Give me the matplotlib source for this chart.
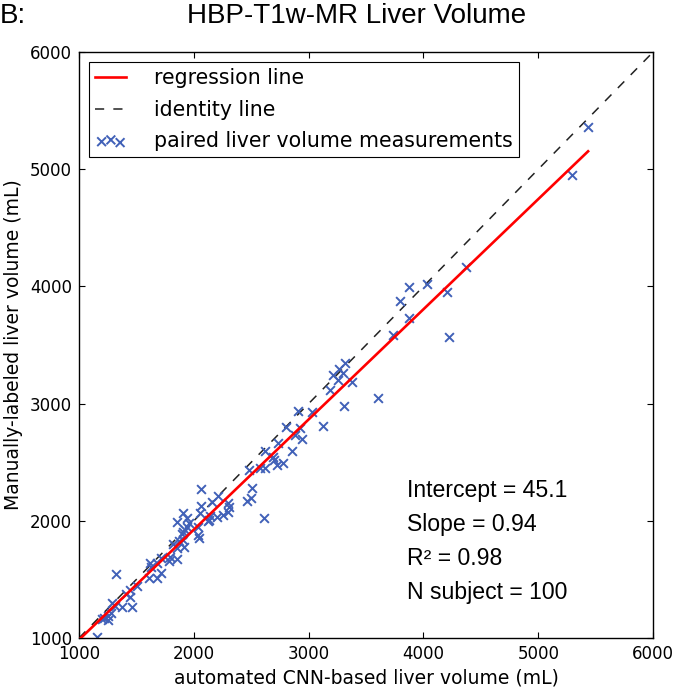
import matplotlib
matplotlib.use("Agg")
import matplotlib.pyplot as plt
import numpy as np

# ---- data ----
auto_vol = [5434, 5295, 4371, 4206, 4223, 4031, 3875, 3796, 3875, 3735,
            3605, 3317, 3265, 3213, 3300, 3256, 3378, 3186, 3308, 2908,
            3030, 3125, 2803, 2925, 2882, 2943, 2733, 2855, 2620, 2690,
            2699, 2777, 2725, 2620, 2577, 2481, 2507, 2498, 2463, 2612,
            2063, 2159, 2211, 2298, 2307, 2298, 2254, 2202, 2132, 2063,
            2054, 1906, 1941, 1854, 1958, 1941, 1923, 1906, 1897, 2037,
            2045, 1906, 1819, 1854, 1915, 2141, 2124, 1871, 1793, 1854,
            1784, 1714, 1679, 1618, 1627, 1714, 1610, 1679, 1322, 1505,
            1444, 1409, 1444, 1462, 1375, 1287, 1314, 1279, 1253, 1218,
            1200, 1253, 1157, 2037]
manual_vol = [5360, 4950, 4165, 3952, 3568, 4020, 3995, 3875, 3730, 3585,
              3048, 3346, 3295, 3244, 3261, 3201, 3184, 3116, 2979, 2937,
              2928, 2809, 2800, 2792, 2732, 2698, 2664, 2595, 2595, 2544,
              2519, 2493, 2476, 2450, 2450, 2433, 2280, 2194, 2169, 2024,
              2271, 2160, 2212, 2152, 2118, 2075, 2049, 2032, 2007, 2126,
              2067, 2067, 2024, 1990, 1981, 1947, 1921, 1904, 1887, 1879,
              1853, 1836, 1802, 1768, 1776, 2041, 1998, 1828, 1691, 1674,
              1657, 1683, 1640, 1640, 1606, 1555, 1512, 1512, 1546, 1444,
              1410, 1375, 1350, 1264, 1264, 1299, 1273, 1213, 1188, 1171,
              1162, 1154, 1009, 1947]
intercept = 45.1
slope = 0.94
r_squared = 0.98
n_subject = 100
fit_x_min = 950          # lower end of fitted range (below visible axis)
axis_range = [1000, 6000]
tick_values = [1000, 2000, 3000, 4000, 5000, 6000]

title = "HBP-T1w-MR Liver Volume"
panel_label = "B:"
xlabel = "automated CNN-based liver volume (mL)"
ylabel = "Manually-labeled liver volume (mL)"

# ---- figure ----
fig = plt.figure(figsize=(6.73, 6.92), dpi=100)
ax = fig.add_axes([0.1174, 0.078, 0.853, 0.8468])

x = np.array(auto_vol, dtype=float)
y = np.array(manual_vol, dtype=float)

fit_x = np.array([fit_x_min, x.max()])
fit_y = intercept + slope * fit_x
reg_line, = ax.plot(fit_x, fit_y, color="red", lw=1.9, zorder=3,
                    label="regression line")
id_line, = ax.plot(axis_range, axis_range, color="#222222", lw=1.1,
                   dashes=(6, 6), zorder=2, label="identity line")
sc = ax.scatter(x, y, marker="x", s=40, color="#4161b8", linewidths=1.4,
                zorder=2.5, label="paired liver volume measurements")

ax.set_xlim(axis_range)
ax.set_ylim(axis_range)
ax.set_xticks(tick_values)
ax.set_yticks(tick_values)
ax.tick_params(direction="in", length=4, width=0.8, top=True, right=True,
               labelsize=12, pad=5)
for s in ax.spines.values():
    s.set_linewidth(1.0)

ax.set_xlabel(xlabel, fontsize=13.5, labelpad=4)
ax.set_ylabel(ylabel, fontsize=13.5, labelpad=5)

leg = ax.legend(handles=[reg_line, id_line, sc], loc="upper left",
                fontsize=14.8, scatterpoints=3,
                scatteryoffsets=[0.375, 0.5, 0.3125], fancybox=False,
                framealpha=1, edgecolor="black", handlelength=1.5,
                handletextpad=1.35, borderaxespad=0.5, borderpad=0.3,
                labelspacing=0.55)
leg.get_frame().set_linewidth(0.8)

stats_text = (f"Intercept = {intercept}\nSlope = {slope}\n"
              f"R\u00b2 = {r_squared}\nN subject = {n_subject}")
ax.text(0.571, 0.272, stats_text, transform=ax.transAxes,
        family="Liberation Sans", fontsize=16.6, linespacing=1.62,
        va="top", ha="left")

fig.text(357 / 673, 1 - 16 / 692, title, family="Liberation Sans",
         fontsize=20, ha="center", va="center")
fig.text(0.0, 1 - 16 / 692, panel_label, family="Liberation Sans",
         fontsize=20, ha="left", va="center")

fig.savefig("out.png", dpi=100, facecolor="white")
